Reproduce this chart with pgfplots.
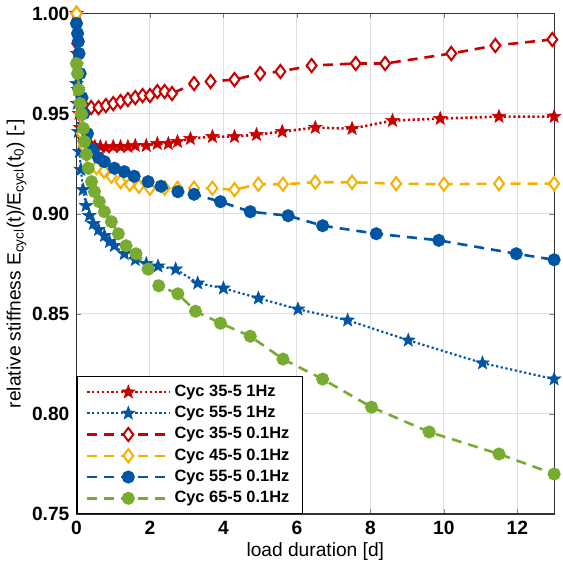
\documentclass[border=0pt]{standalone}
\usepackage{fontspec}
\setmainfont{Liberation Sans}
\usepackage{pgfplots}
\pgfplotsset{compat=1.18}
\usetikzlibrary{plotmarks}

\definecolor{cred}{HTML}{C80000}
\definecolor{cyel}{HTML}{F5B000}
\definecolor{cblu}{HTML}{0055A5}
\definecolor{cgrn}{HTML}{77AC30}

% filled five-pointed star, like MATLAB's pentagram
\pgfdeclareplotmark{fstar}{%
  \pgfpathmoveto{\pgfpointpolar{90}{\pgfplotmarksize}}%
  \pgfpathlineto{\pgfpointpolar{126}{0.42\pgfplotmarksize}}%
  \pgfpathlineto{\pgfpointpolar{162}{\pgfplotmarksize}}%
  \pgfpathlineto{\pgfpointpolar{198}{0.42\pgfplotmarksize}}%
  \pgfpathlineto{\pgfpointpolar{234}{\pgfplotmarksize}}%
  \pgfpathlineto{\pgfpointpolar{270}{0.42\pgfplotmarksize}}%
  \pgfpathlineto{\pgfpointpolar{306}{\pgfplotmarksize}}%
  \pgfpathlineto{\pgfpointpolar{342}{0.42\pgfplotmarksize}}%
  \pgfpathlineto{\pgfpointpolar{18}{\pgfplotmarksize}}%
  \pgfpathlineto{\pgfpointpolar{54}{0.42\pgfplotmarksize}}%
  \pgfpathclose\pgfusepathqfillstroke}

\pgfplotsset{
  dotline/.style={line width=1.3pt, dash pattern=on 1.1pt off 1.3pt},
  dashline/.style={line width=1.3pt, dash pattern=on 5pt off 3.5pt},
}

\begin{document}
\begin{tikzpicture}
\begin{axis}[
    width=239pt, height=250.5pt, scale only axis,
    xmin=0, xmax=13, ymin=0.75, ymax=1.0,
    xtick={0,2,...,12},
    ytick={0.75,0.80,...,1.00},
    yticklabel style={/pgf/number format/.cd, fixed, fixed zerofill, precision=2},
    /pgf/number format/assume math mode=true,
    ticklabel style={font=\bfseries\fontsize{9.6}{11}\selectfont},
    label style={font=\fontsize{9.6}{11}\selectfont},
    xlabel={load duration [d]},
    ylabel={relative stiffness E\textsubscript{cycl}(t)/E\textsubscript{cycl}(t\textsubscript{0}) [-]},
    xlabel style={yshift=3pt},
    ylabel style={yshift=-4pt},
    grid=major, major grid style={gray!25, line width=0.5pt},
    axis line style={black!80, line width=0.6pt},
    major tick length=2.5pt,
    clip mode=individual,
    legend cell align=left,
    legend style={font=\bfseries\fontsize{8.2}{9}\selectfont, draw=black, line width=0.6pt,
        row sep=-0.6pt, inner ysep=2pt, inner xsep=4.5pt, at={(0,0)}, anchor=south west},
    legend image code/.code={\draw[mark repeat=2, mark phase=2] plot coordinates {(0cm,0cm) (0.72cm,0cm) (1.44cm,0cm)};},
]
% Cyc 35-5 1Hz
\addplot[cred, dotline, mark=fstar, mark size=3.5pt, mark options={solid, fill=cred, line width=0.3pt}] coordinates {
(0,1.0) (0.02,0.98) (0.04,0.962) (0.07,0.950) (0.1,0.943) (0.15,0.939) (0.2,0.937)
(0.3,0.935) (0.4,0.934) (0.5,0.9335) (0.65,0.9335) (0.8,0.933) (1.0,0.9335) (1.2,0.9335)
(1.4,0.9335) (1.6,0.934) (1.9,0.934) (2.2,0.935) (2.5,0.935) (2.75,0.936) (3.1,0.9375)
(3.7,0.9385) (4.3,0.9385) (4.9,0.9395) (5.6,0.941) (6.5,0.943) (7.5,0.9425) (8.6,0.9465)
(9.9,0.9475) (11.5,0.9485) (13,0.9485)
};
\addlegendentry{Cyc 35-5 1Hz}
% Cyc 55-5 1Hz
\addplot[cblu, dotline, line width=1.1pt, mark=fstar, mark size=3.5pt, mark options={solid, fill=cblu, line width=0.3pt}] coordinates {
(0,0.965) (0.02,0.955) (0.05,0.941) (0.08,0.931) (0.12,0.922) (0.18,0.912) (0.26,0.904)
(0.35,0.899) (0.46,0.895) (0.6,0.892) (0.76,0.889) (0.9,0.886) (1.03,0.884) (1.3,0.880)
(1.6,0.877) (1.9,0.875) (2.22,0.8738) (2.7,0.8723) (3.3,0.8653) (4.0,0.8628) (4.95,0.8578)
(6.03,0.8523) (7.38,0.8468) (9.03,0.8368) (11.05,0.8254) (13,0.8174)
};
\addlegendentry{Cyc 55-5 1Hz}
% Cyc 35-5 0.1Hz
\addplot[cred, dashline, mark=diamond*, mark size=3.3pt, mark options={solid, fill=white, line width=1pt}] coordinates {
(0,1.0) (0.02,0.985) (0.04,0.97) (0.07,0.96) (0.1,0.956) (0.2,0.954) (0.4,0.953)
(0.6,0.953) (0.8,0.954) (1.0,0.955) (1.2,0.956) (1.4,0.957) (1.6,0.958) (1.8,0.959)
(2.0,0.959) (2.2,0.961) (2.4,0.961) (2.6,0.960) (3.2,0.965) (3.65,0.966) (4.3,0.967)
(5.0,0.970) (5.55,0.971) (6.4,0.974) (7.6,0.975) (8.4,0.975) (10.2,0.980) (11.4,0.984)
(12.95,0.987)
};
\addlegendentry{Cyc 35-5 0.1Hz}
% Cyc 45-5 0.1Hz
\addplot[cyel, dashline, mark=diamond*, mark size=3.3pt, mark options={solid, fill=white, line width=1pt}] coordinates {
(0,1.0) (0.02,0.99) (0.04,0.975) (0.07,0.96) (0.1,0.95) (0.15,0.94) (0.2,0.934)
(0.3,0.929) (0.4,0.926) (0.55,0.923) (0.75,0.9212) (0.95,0.9187) (1.2,0.916) (1.45,0.9147)
(1.7,0.9137) (2.0,0.9127) (2.4,0.9127) (2.75,0.9127) (3.2,0.9127) (3.7,0.9127) (4.3,0.912)
(4.95,0.9147) (5.62,0.9147) (6.5,0.9157) (7.5,0.9157) (8.7,0.915) (10.0,0.9147)
(11.5,0.915) (13,0.915)
};
\addlegendentry{Cyc 45-5 0.1Hz}
% Cyc 55-5 0.1Hz
\addplot[cblu, dashline, mark=*, mark size=2.6pt, mark options={solid, fill=cblu, draw=cblu}] coordinates {
(0,0.995) (0.03,0.99) (0.05,0.986) (0.07,0.98) (0.1,0.97) (0.15,0.958) (0.2,0.95)
(0.3,0.94) (0.45,0.932) (0.6,0.928) (0.76,0.926) (1.03,0.9227) (1.3,0.921) (1.57,0.9187)
(1.95,0.916) (2.3,0.9137) (2.76,0.911) (3.2,0.9097) (3.92,0.906) (4.73,0.901) (5.76,0.899)
(6.7,0.894) (8.16,0.890) (9.86,0.8867) (11.97,0.880) (13,0.877)
};
\addlegendentry{Cyc 55-5 0.1Hz}
% Cyc 65-5 0.1Hz
\addplot[cgrn, dashline, mark=*, mark size=2.6pt, mark options={solid, fill=cgrn, draw=cgrn}] coordinates {
(0,0.975) (0.03,0.97) (0.06,0.962) (0.1,0.955) (0.14,0.9496) (0.19,0.9426) (0.22,0.936)
(0.27,0.9296) (0.32,0.9227) (0.41,0.916) (0.49,0.911) (0.62,0.906) (0.76,0.901)
(0.95,0.896) (1.14,0.890) (1.35,0.884) (1.62,0.880) (1.95,0.8723) (2.24,0.864)
(2.76,0.860) (3.24,0.8513) (3.92,0.8453) (4.73,0.8388) (5.62,0.8274) (6.7,0.8174)
(8.03,0.8034) (9.6,0.791) (11.5,0.780) (13,0.770)
};
\addlegendentry{Cyc 65-5 0.1Hz}
\end{axis}
\path (current axis.north east) -- ++(4pt,6pt);
\end{tikzpicture}
\end{document}
